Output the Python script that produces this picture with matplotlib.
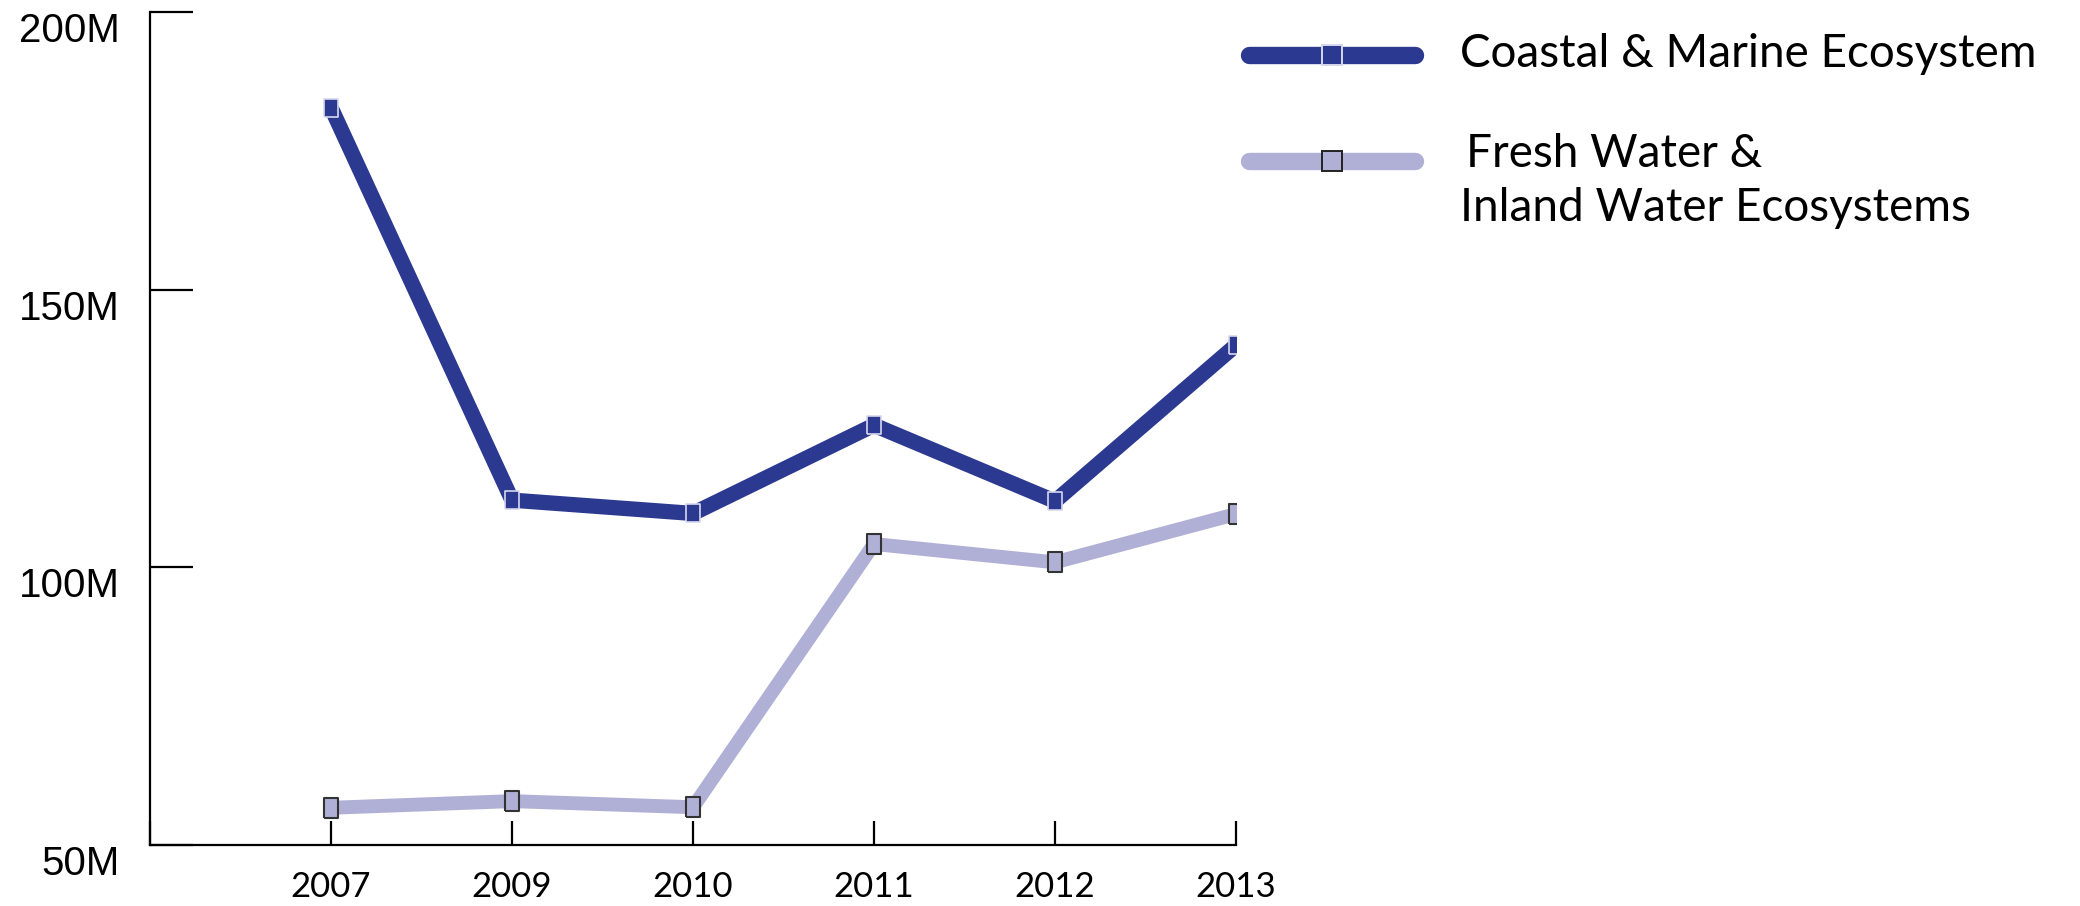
import numpy as np
import matplotlib.pyplot as plt
from matplotlib.lines import Line2D

years = ["2007", "2009", "2010", "2011", "2012", "2013"]
coastal = [182.8, 112.1, 109.7, 125.6, 111.9, 140.0]
fresh = [56.7, 57.9, 56.8, 104.2, 100.9, 109.6]
y_ticks = [50, 100, 150, 200]
y_labels = ["50M", "100M", "150M", "200M"]
names = ["Coastal & Marine Ecosystem", "Fresh Water &\nInland Water Ecosystems"]

dark = "#2b3990"
light = "#b0afd6"

# tall rectangle marker, as in the original
rect = [(-0.72, -1), (0.72, -1), (0.72, 1), (-0.72, 1), (-0.72, -1)]

W, H = 2080, 906
fig = plt.figure(figsize=(W / 100, H / 100), dpi=100)
ax = fig.add_axes([150 / W, 61 / H, (1236 - 150) / W, (845 - 12) / H])

x = np.arange(1, len(years) + 1)
ax.plot(x, fresh, color=light, lw=10, solid_joinstyle="round", solid_capstyle="butt",
        marker=rect, ms=14, mfc=light, mec="#333333", mew=1.5, zorder=3)
ax.plot(x, coastal, color=dark, lw=11, solid_joinstyle="miter", solid_capstyle="butt",
        marker=rect, ms=13.5, mfc=dark, mec="#d8d8ee", mew=1.2, zorder=4)

ax.set_xlim(0, len(years))
ax.set_ylim(50, 200)
ax.set_xticks(np.arange(0, len(years) + 1))
ax.set_xticklabels([""] + years, family="Lato", fontsize=25)
ax.set_yticks(y_ticks)
ax.set_yticklabels(y_labels, family="Liberation Sans", fontsize=29)
for lbl in ax.get_yticklabels():
    lbl.set_verticalalignment("top")

ax.tick_params(axis="y", direction="in", length=31, width=1.6, pad=22)
ax.tick_params(axis="x", direction="in", length=17, width=1.6, pad=19)
for s in ["top", "right"]:
    ax.spines[s].set_visible(False)
for s in ["left", "bottom"]:
    ax.spines[s].set_linewidth(1.6)

# legend drawn by hand so it sits like the original
tf = fig.transFigure
for (yy, col, mfc, mec) in [(851, dark, dark, "#d8d8ee"), (745, light, light, "#222222")]:
    fig.add_artist(Line2D([1249 / W, 1415 / W], [yy / H, yy / H], transform=tf, color=col,
                          lw=12.5, solid_capstyle="round"))
    fig.add_artist(Line2D([1332 / W], [yy / H], transform=tf, marker="s", ms=14.5,
                          mfc=mfc, mec=mec, mew=1.4, lw=0))

fig.text(1460 / W, 839 / H, names[0], family="Lato", fontsize=33, va="baseline")
first, second = names[1].split("\n")
fig.text(1466 / W, 739 / H, first, family="Lato", fontsize=33, va="baseline")
fig.text(1460 / W, 685 / H, second, family="Lato", fontsize=33, va="baseline")

fig.savefig("out.png", dpi=100)
